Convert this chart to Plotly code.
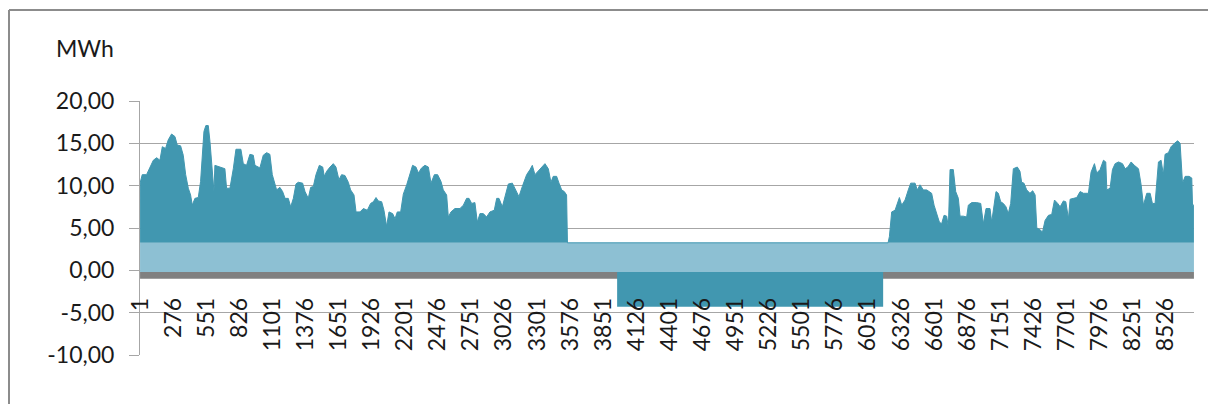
import plotly.graph_objects as go

# ---- data ----
hours_total = [
    1, 19, 55, 83, 111, 139, 166, 186, 213, 235, 263, 291, 310, 338, 360, 380, 402, 421, 435, 457,
    485, 504, 521, 532, 548, 568, 582, 601, 615, 623, 665, 706, 720, 748, 776, 798, 839, 859, 886, 914,
    942, 956, 997, 1025, 1053, 1080, 1100, 1122, 1136, 1163, 1186, 1206, 1233, 1253, 1275, 1297, 1316,
    1352, 1372, 1399, 1419, 1441, 1463, 1491, 1519, 1532, 1552, 1580, 1607, 1629, 1654, 1676, 1704,
    1732, 1751, 1779, 1796, 1829, 1857, 1890, 1917, 1940, 1962, 1981, 2009, 2028, 2050, 2070, 2100,
    2120, 2139, 2167, 2189, 2217, 2244, 2266, 2294, 2314, 2341, 2369, 2397, 2419, 2447, 2474, 2502,
    2521, 2549, 2563, 2585, 2618, 2660, 2688, 2715, 2735, 2757, 2784, 2804, 2826, 2854, 2881, 2909,
    2945, 2965, 2984, 3012, 3034, 3062, 3095, 3122, 3150, 3178, 3214, 3242, 3261, 3283, 3311, 3339,
    3366, 3394, 3416, 3435, 3463, 3483, 3505, 3527, 3546, 3553,
    6218, 6229, 6248, 6276, 6295, 6312, 6331, 6359, 6386, 6406, 6442, 6461, 6483, 6511, 6539, 6561,
    6580, 6600, 6622, 6644, 6663, 6683, 6705, 6719, 6733, 6760, 6780, 6802, 6816, 6843, 6871, 6885,
    6913, 6954, 6988, 7010, 7032, 7065, 7079, 7093, 7115, 7134, 7154, 7176, 7198, 7217, 7237, 7259,
    7292, 7314, 7328, 7347, 7370, 7397, 7420, 7440, 7454, 7482, 7501, 7523, 7551, 7578, 7601, 7628,
    7648, 7675, 7695, 7717, 7731, 7759, 7786, 7814, 7842, 7883, 7905, 7933, 7952, 7980, 8008, 8027,
    8036, 8063, 8083, 8105, 8133, 8166, 8188, 8210, 8238, 8265, 8299, 8321, 8340, 8368, 8396, 8415,
    8437, 8465, 8487, 8506, 8520, 8548, 8570, 8598, 8625, 8645, 8665, 8687, 8720, 8742, 8748, 8760,
]
heat_total = [
    10.3, 11.3, 11.3, 12.2, 13.0, 13.3, 13.0, 14.6, 14.4, 15.4, 16.1, 15.8, 14.8, 14.7, 13.6, 11.3, 9.7, 8.9, 7.7, 8.5,
    8.6, 10.5, 14.2, 16.4, 17.1, 17.1, 15.2, 12.0, 9.3, 12.4, 12.2, 12.0, 9.7, 9.7, 12.0, 14.3, 14.3, 12.6, 12.4, 13.7,
    13.6, 12.4, 12.1, 13.6, 13.9, 13.7, 11.3, 10.1, 9.5, 9.8, 9.3, 8.5, 8.5, 7.5, 8.5, 10.2, 10.4,
    10.3, 9.3, 8.5, 9.8, 9.9, 11.3, 12.4, 12.2, 11.1, 11.7, 12.2, 12.6, 12.2, 10.7, 11.3, 11.2,
    10.4, 9.5, 8.9, 6.9, 6.9, 7.3, 7.1, 7.9, 8.1, 8.6, 8.2, 8.1, 7.1, 5.2, 6.9, 6.7,
    6.1, 6.9, 6.9, 9.0, 10.1, 11.3, 12.4, 12.2, 11.5, 12.1, 12.4, 12.2, 10.3, 11.3, 11.3, 10.5,
    9.5, 8.9, 6.3, 6.9, 7.3, 7.3, 7.7, 8.5, 8.5, 7.9, 8.0, 5.7, 6.7, 6.7, 6.3, 6.9,
    7.1, 8.5, 8.5, 7.5, 8.7, 10.2, 10.3, 9.5, 8.7, 9.9, 11.3, 11.9, 12.4, 11.3, 11.7, 12.2,
    12.6, 12.0, 10.4, 11.1, 11.1, 10.3, 9.5, 9.3, 8.9, 3.25,
    3.25, 4.0, 6.9, 7.1, 7.9, 8.6, 7.7, 8.3, 9.5, 10.3, 10.3, 9.5, 10.1, 9.5, 9.5, 9.3,
    9.1, 7.7, 6.7, 5.7, 5.5, 6.5, 6.4, 5.1, 11.9, 11.9, 9.3, 8.5, 6.4, 6.4, 6.3, 7.7,
    8.0, 8.0, 7.9, 5.5, 7.3, 7.3, 5.7, 7.1, 9.3, 9.1, 8.1, 7.9, 7.5, 6.7, 7.9, 12.0,
    12.2, 11.7, 10.4, 10.3, 9.5, 9.1, 9.4, 8.9, 5.0, 4.8, 4.5, 5.9, 6.5, 6.6, 8.3, 7.9,
    7.5, 8.2, 8.1, 6.1, 8.4, 8.5, 8.6, 9.3, 9.1, 9.1, 11.6, 12.6, 11.5, 11.9, 13.0, 12.8,
    9.5, 9.7, 11.9, 12.6, 12.8, 12.6, 12.0, 12.2, 12.8, 12.4, 12.0, 10.1, 7.7, 9.1, 9.1, 7.9,
    7.9, 12.8, 13.0, 11.3, 13.7, 13.9, 14.6, 15.0, 15.3, 15.0, 10.3, 11.1, 11.1, 10.9, 7.7, 7.7,
]

year_hours = [1, 8760]
zero_level = [-0.2, -0.2]
base_level = [3.25, 3.25]          # constant base (light blue)
gray_level = [-1.0, -1.0]          # constant negative band (gray)

summer_hours = [3966, 6177]
summer_zero = [-0.2, -0.2]
summer_neg = [-4.3, -4.3]          # summer negative block

y_ticks = [-10, -5, 0, 5, 10, 15, 20]
y_labels = ["-10,00", "-5,00", "0,00", "5,00", "10,00", "15,00", "20,00"]
x_ticks = list(range(1, 8761, 275))
x_labels = [str(v) for v in x_ticks]

TEAL = "#4197B0"
LIGHT = "#8DC0D3"
GRAY = "#808080"
GRID = "#A6A6A6"
FONT = "Lato"
FS = 23

fig = go.Figure()
nol = dict(width=0)
# gray band
fig.add_trace(go.Scatter(x=year_hours, y=zero_level, mode="lines", line=nol, hoverinfo="skip"))
fig.add_trace(go.Scatter(x=year_hours, y=gray_level, mode="lines", line=nol, fill="tonexty",
                         fillcolor=GRAY))
# light-blue base
fig.add_trace(go.Scatter(x=year_hours, y=zero_level, mode="lines", line=nol, hoverinfo="skip"))
fig.add_trace(go.Scatter(x=year_hours, y=base_level, mode="lines", line=nol, fill="tonexty",
                         fillcolor=LIGHT))
# heating demand above base
fig.add_trace(go.Scatter(x=hours_total, y=heat_total, mode="lines", line=dict(width=1, color=TEAL),
                         fill="tonexty", fillcolor=TEAL))
# summer negative block
fig.add_trace(go.Scatter(x=summer_hours, y=summer_zero, mode="lines", line=nol, hoverinfo="skip"))
fig.add_trace(go.Scatter(x=summer_hours, y=summer_neg, mode="lines", line=nol, fill="tonexty",
                         fillcolor=TEAL))

# figure is placed 8px in from the page corner (body margin); keep it inside the window
OFF = 8
W, H = 1201, 396
L, T = 140 - OFF, 101 - OFF
R = W - (1194 - OFF)
B = H - (355 - OFF)
pw, ph = W - L - R, H - T - B

def px_x(p):
    return (p - OFF - L) / pw

def px_y(p):
    return (H - B - (p - OFF)) / ph

FRAME = dict(color="#8C8C8C", width=2)

fig.update_layout(
    width=W, height=H, autosize=False,
    margin=dict(l=L, r=R, t=T, b=B, pad=0),
    paper_bgcolor="white", plot_bgcolor="white",
    showlegend=False,
    font=dict(family=FONT, size=FS, color="#1a1a1a"),
    xaxis=dict(range=[0.5, 8760.5], tickvals=x_ticks, ticktext=x_labels, tickangle=-90,
               anchor="free", position=1/3, showgrid=False, zeroline=False, showline=False,
               ticks="", ticklabelstandoff=22, tickfont=dict(family=FONT, size=FS, color="#1a1a1a")),
    yaxis=dict(range=[-10, 20], tickvals=y_ticks, ticktext=y_labels, showgrid=True,
               gridcolor=GRID, gridwidth=1, zeroline=False, showline=True, linecolor=GRID,
               linewidth=1, ticks="outside", ticklen=10, tickcolor=GRID, ticklabelstandoff=10,
               tickfont=dict(family=FONT, size=FS, color="#1a1a1a")),
    shapes=[
        dict(type="line", xref="paper", yref="paper", x0=px_x(9), x1=px_x(1208),
             y0=px_y(10), y1=px_y(10), line=FRAME, layer="below"),
        dict(type="line", xref="paper", yref="paper", x0=px_x(9), x1=px_x(9),
             y0=px_y(10), y1=px_y(404), line=FRAME, layer="below"),
    ],
    annotations=[dict(text="MWh", xref="paper", yref="paper", x=px_x(54), y=px_y(48),
                      xanchor="left", yanchor="middle", showarrow=False,
                      font=dict(family=FONT, size=FS, color="#1a1a1a"))],
)

fig.write_html("out.html")
